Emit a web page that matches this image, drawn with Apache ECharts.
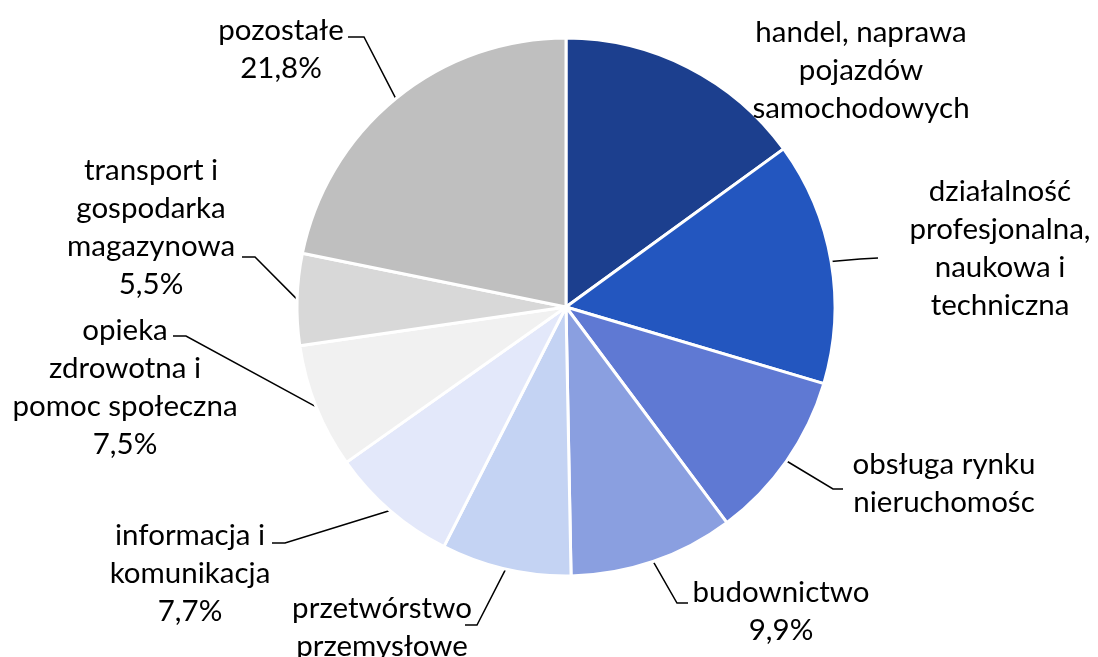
<!DOCTYPE html>
<html>
<head>
<meta charset="utf-8">
<script src="https://cdn.jsdelivr.net/npm/echarts@6/dist/echarts.min.js"></script>
<style>
  html, body { margin: 0; padding: 0; background: #fff; }
  #chart { width: 1098px; height: 657px; }
</style>
</head>
<body>
<div id="chart"></div>
<script>
// Struktura według sekcji (%), zgodnie z ruchem wskazówek zegara od góry
const categories = [
  'handel, naprawa\npojazdów\nsamochodowych',
  'działalność\nprofesjonalna,\nnaukowa i\ntechniczna',
  'obsługa rynku\nnieruchomośc',
  'budownictwo',
  'przetwórstwo\nprzemysłowe',
  'informacja i\nkomunikacja',
  'opieka\nzdrowotna i\npomoc społeczna',
  'transport i\ngospodarka\nmagazynowa',
  'pozostałe'
];
const shares = [15.0, 14.6, 10.2, 9.9, 7.8, 7.7, 7.5, 5.5, 21.8];
const showShare = [false, false, false, true, true, true, true, true, true];

const colors = ['#1c3f8e', '#2356bf', '#5f79d3', '#8a9fe0', '#c4d3f3',
                '#e3e8fa', '#f1f1f1', '#d8d8d8', '#bfbfbf'];

// Label placement: text block centre x, top y, elbow and end of the leader line
const labelPlace = [
  { x: 861, y: 13,  line: null },
  { x: 1000, y: 172, line: [[860, 259], [878, 258]] },
  { x: 944, y: 445, line: [[833, 489], [843, 489]] },
  { x: 781, y: 573, line: [[677, 603], [688, 603]] },
  { x: 382, y: 589, line: [[477, 625], [465, 625]] },
  { x: 190, y: 516, line: [[285, 543], [272, 543]] },
  { x: 125, y: 311, line: [[186, 336], [173, 336]] },
  { x: 151, y: 151, line: [[255, 257], [242, 257]] },
  { x: 281, y: 11,  line: [[364, 37], [348, 37]] }
];

const fmt = v => v.toFixed(1).replace('.', ',') + '%';

const chart = echarts.init(document.getElementById('chart'), null, { renderer: 'canvas' });
chart.setOption({
  animation: false,
  series: [{
    type: 'pie',
    center: [566, 307],
    radius: [0, 269],
    startAngle: 90,
    clockwise: true,
    avoidLabelOverlap: false,
    itemStyle: { borderColor: '#ffffff', borderWidth: 3 },
    label: {
      show: true,
      color: '#000000',
      fontFamily: 'Lato',
      fontSize: 29.5,
      lineHeight: 38,
      align: 'center',
      formatter: p => categories[p.dataIndex] + (showShare[p.dataIndex] ? '\n' + fmt(p.value) : '')
    },
    labelLine: { show: true, lineStyle: { color: '#000000', width: 1.5 }, length: 10, length2: 10 },
    labelLayout: function (params) {
      const pl = labelPlace[params.dataIndex];
      const out = { x: pl.x, y: pl.y, align: 'center', verticalAlign: 'top' };
      if (pl.line && params.labelLinePoints) {
        const s = params.labelLinePoints[0];
        out.labelLinePoints = [[s[0], s[1]], pl.line[0], pl.line[1]];
      } else {
        out.labelLinePoints = [[0, 0], [0, 0], [0, 0]];
      }
      return out;
    },
    data: shares.map((v, i) => ({
      name: categories[i],
      value: v,
      itemStyle: { color: colors[i] },
      labelLine: { show: labelPlace[i].line !== null }
    }))
  }]
});
</script>
</body>
</html>
